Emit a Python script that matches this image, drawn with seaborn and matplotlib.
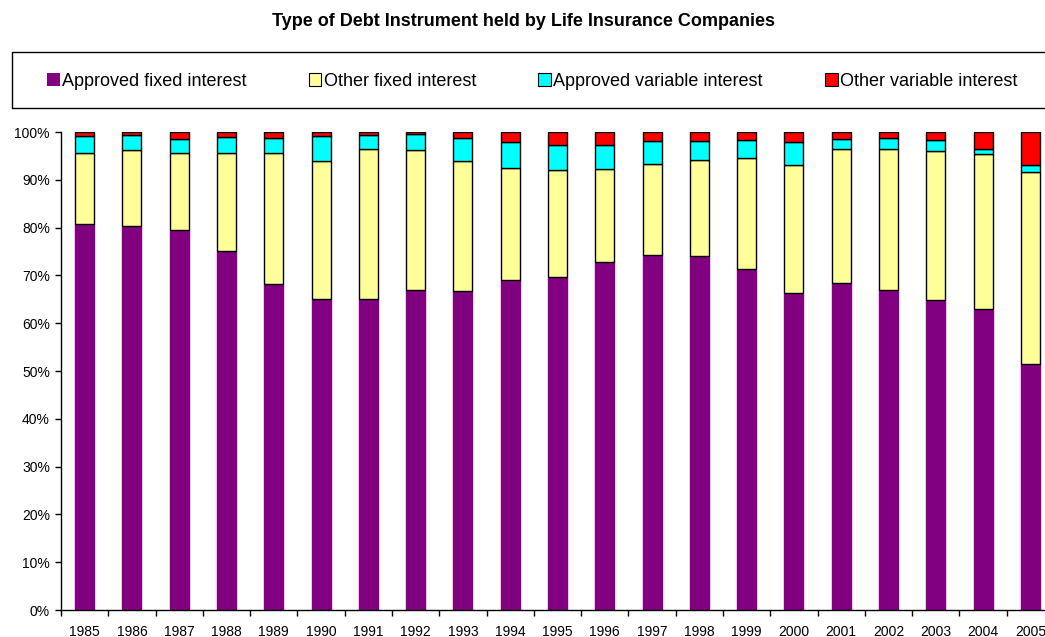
import numpy as np
import pandas as pd
import seaborn as sns
import matplotlib.pyplot as plt
from matplotlib.patches import Rectangle, Patch
from matplotlib.ticker import PercentFormatter, FixedLocator

# Data (share of debt instruments, %)
years = [str(y) for y in range(1985, 2006)]
approved_fixed = [80.8, 80.3, 79.5, 75.2, 68.2, 65.0, 65.1, 67.0, 66.8, 69.0, 69.7,
                  72.7, 74.2, 74.0, 71.4, 66.3, 68.5, 67.0, 64.8, 63.0, 51.5]
other_fixed = [14.8, 15.9, 16.1, 20.5, 27.4, 29.0, 31.4, 29.3, 27.2, 23.5, 22.3,
               19.6, 19.1, 20.2, 23.1, 26.8, 28.0, 29.4, 31.2, 32.3, 40.2]
approved_variable = [3.6, 3.1, 2.9, 3.2, 3.2, 5.1, 2.9, 3.2, 4.7, 5.4, 5.3,
                     5.0, 4.8, 4.0, 3.9, 4.9, 2.1, 2.4, 2.4, 1.2, 1.3]
other_variable = [0.8, 0.7, 1.5, 1.1, 1.2, 0.9, 0.6, 0.5, 1.3, 2.1, 2.7,
                  2.7, 1.9, 1.8, 1.6, 2.0, 1.4, 1.2, 1.6, 3.5, 7.0]

series = ["Approved fixed interest", "Other fixed interest",
          "Approved variable interest", "Other variable interest"]
colors = ["#800080", "#FFFF99", "#00FFFF", "#FF0000"]

df = pd.DataFrame({
    "Year": years,
    series[0]: approved_fixed,
    series[1]: other_fixed,
    series[2]: approved_variable,
    series[3]: other_variable,
})

sns.set_style("white")
plt.rcParams["font.family"] = ["Liberation Sans", "DejaVu Sans"]
plt.rcParams["text.color"] = "black"

W, H = 1045, 637
fig = plt.figure(figsize=(W / 100, H / 100), dpi=100)
ax = fig.add_axes([61 / W, 1 - 610 / H, 993 / W, 478 / H])

# stacked bars, one layer per series
bottom = np.zeros(len(years))
for name, col in zip(series, colors):
    edge = col if name == series[0] else "black"
    sns.barplot(data=df, x="Year", y=name, color=col, width=0.4,
                bottom=bottom, edgecolor=edge, linewidth=1.0, ax=ax,
                saturation=1)
    bottom = bottom + df[name].values

ax.set_xlim(-0.5, len(years) - 0.5)
ax.set_ylim(0, 100)
ax.set_yticks(np.arange(0, 101, 10))
ax.yaxis.set_major_formatter(PercentFormatter(decimals=0))
ax.set_xlabel("")
ax.set_ylabel("")
for s in ["top", "right"]:
    ax.spines[s].set_visible(False)
for s in ["left", "bottom"]:
    ax.spines[s].set_color("black")
    ax.spines[s].set_linewidth(1.0)

ax.tick_params(axis="y", which="major", left=True, length=4, width=1,
               direction="out", pad=4, labelsize=10, colors="black")
ax.tick_params(axis="x", which="major", bottom=False, pad=7, labelsize=10,
               colors="black")
ax.xaxis.set_minor_locator(FixedLocator(np.arange(-0.5, len(years), 1.0)))
ax.tick_params(axis="x", which="minor", bottom=True, length=4, width=1,
               direction="out", colors="black")

fig.text(523 / W, 1 - 22 / H,
         "Type of Debt Instrument held by Life Insurance Companies",
         ha="center", va="center", fontsize=13, fontweight="bold",
         color="black")

# legend box
fig.patches.append(Rectangle((12 / W, 1 - 108 / H), 1060 / W, 56 / H,
                             transform=fig.transFigure, fill=False,
                             edgecolor="black", linewidth=1.0))
handles = [Patch(facecolor=c, edgecolor=("none" if i == 0 else "black"),
                 linewidth=0.8) for i, c in enumerate(colors)]
leg = fig.legend(handles, series, loc="center left",
                 bbox_to_anchor=(40 / W, 1 - 81 / H), ncol=4, frameon=False,
                 fontsize=13, handlelength=0.7, handleheight=0.7,
                 handletextpad=0.12, columnspacing=3.45, borderaxespad=0)
for t in leg.get_texts():
    t.set_color("black")

fig.savefig("out.png", dpi=100)
